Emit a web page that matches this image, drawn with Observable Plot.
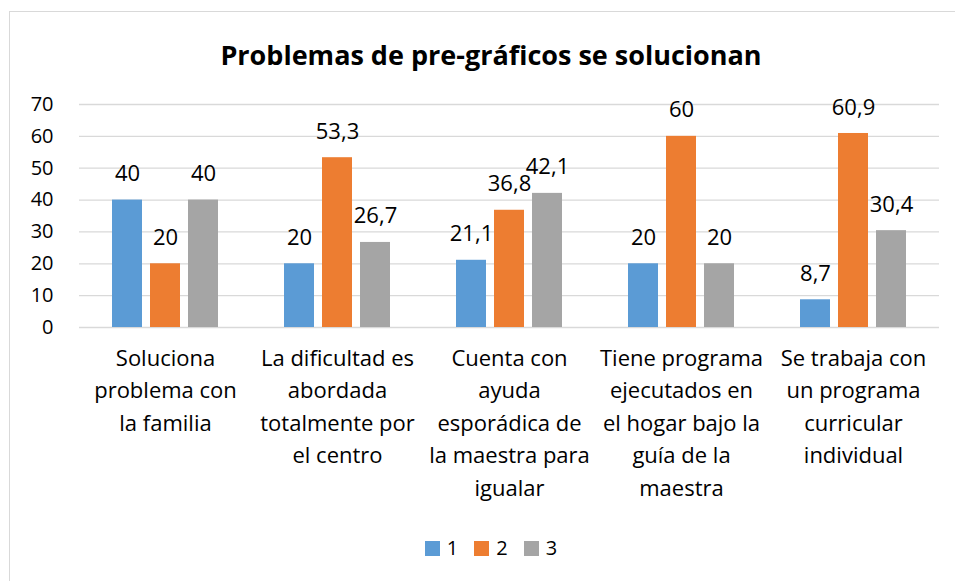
<!DOCTYPE html>
<html>
<head>
<meta charset="utf-8">
<script src="https://cdn.jsdelivr.net/npm/d3@7"></script>
<script src="https://cdn.jsdelivr.net/npm/@observablehq/plot@0.6"></script>
<style>
html, body { margin: 0; padding: 0; background: #fff; overflow: hidden; }
#wrap { position: relative; width: 955px; height: 581px; overflow: hidden; font-family: "Open Sans", Lato, sans-serif; color: #000; }
#frame { position: absolute; left: 9px; top: 11px; width: 1200px; height: 1200px; border: 1px solid #d9d9d9; box-sizing: border-box; }
#title { position: absolute; left: 9px; width: 964px; top: 37px; text-align: center; font-size: 27px; font-weight: bold; line-height: 36px; }
#chart { position: absolute; left: 0; top: 80px; }
#legend { position: absolute; left: 9px; width: 964px; top: 535px; display: flex; justify-content: center; align-items: center; font-size: 20px; line-height: 26px; }
.item { display: flex; align-items: center; margin: 0 8px; }
.sw { width: 15px; height: 15px; margin-right: 7px; }
</style>
</head>
<body>
<div id="wrap">
  <div id="frame"></div>
  <div id="title">Problemas de pre-gráficos se solucionan</div>
  <div id="chart"></div>
  <div id="legend"></div>
</div>
<script>
const categories = [
  "Soluciona\nproblema con\nla familia",
  "La dificultad es\nabordada\ntotalmente por\nel centro",
  "Cuenta con\nayuda\nesporádica de\nla maestra para\nigualar",
  "Tiene programa\nejecutados en\nel hogar bajo la\nguía de la\nmaestra",
  "Se trabaja con\nun programa\ncurricular\nindividual"
];
const seriesNames = ["1", "2", "3"];
const series1 = [40, 20, 21.1, 20, 8.7];
const series2 = [20, 53.3, 36.8, 60, 60.9];
const series3 = [40, 26.7, 42.1, 20, 30.4];
const colors = ["#5B9BD5", "#ED7D31", "#A5A5A5"];
const yTicks = [0, 10, 20, 30, 40, 50, 60, 70];

const seriesValues = [series1, series2, series3];
const data = [];
categories.forEach((c, i) => {
  seriesNames.forEach((s, j) => {
    data.push({cat: c, series: s, value: seriesValues[j][i]});
  });
});
const fmt = v => String(v).replace(".", ",");

const chart = Plot.plot({
  width: 955,
  height: 440,
  marginLeft: 78,
  marginRight: 15,
  marginTop: 24,
  marginBottom: 193,
  style: {fontFamily: "'Open Sans', Lato, sans-serif", color: "#000", background: "transparent"},
  fx: {domain: categories, padding: 0, axis: null},
  x: {domain: seriesNames, paddingInner: 0.221, paddingOuter: 0.85, axis: null},
  y: {domain: [0, 70], axis: null},
  color: {domain: seriesNames, range: colors},
  marks: [
    Plot.gridY(yTicks, {stroke: "#d9d9d9", strokeOpacity: 1, strokeWidth: 1.3}),
    Plot.axisY(yTicks, {label: null, tickSize: 0, tickPadding: 26, fontSize: 20, fill: "#000", tickFormat: d => String(d)}),
    Plot.barY(data, {fx: "cat", x: "series", y: "value", fill: "series"}),
    Plot.text(data, {fx: "cat", x: "series", y: "value", text: d => fmt(d.value), dy: -26, fontSize: 22, fill: "#000"}),
    Plot.text(categories, {fx: d => d, frameAnchor: "bottom", lineAnchor: "top", dy: 15, text: d => d, fontSize: 22, lineHeight: 1.48, fill: "#000"})
  ]
});
document.getElementById("chart").appendChild(chart);

const legend = document.getElementById("legend");
seriesNames.forEach((s, i) => {
  const item = document.createElement("div");
  item.className = "item";
  const sw = document.createElement("div");
  sw.className = "sw";
  sw.style.background = colors[i];
  const t = document.createElement("span");
  t.textContent = s;
  item.appendChild(sw);
  item.appendChild(t);
  legend.appendChild(item);
});
</script>
</body>
</html>
